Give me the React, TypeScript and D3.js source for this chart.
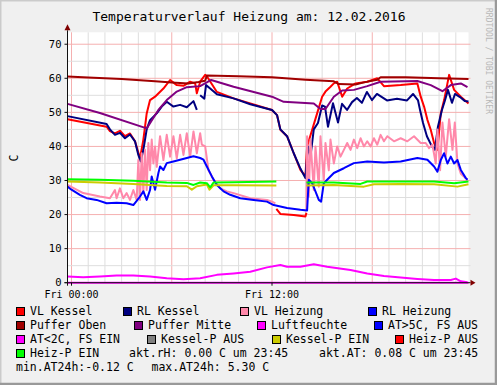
import * as d3 from "d3";

type Pt = [number, number | null];

// hours from Fri 00:00, temperature in C
const vlKessel: Pt[] = [
  [-0.24, 48.0], [2.1, 45.8], [2.3, 44.5], [2.6, 43.8], [2.9, 44.6], [3.2, 43.0], [3.5, 43.8],
  [3.8, 41.5], [4.1, 36.5], [4.3, 42], [4.4, 45.8], [4.5, 49.7], [4.7, 53.6], [5.0, 54.6],
  [5.5, 57], [5.9, 59.5], [6.3, 58], [6.7, 57.8], [7.1, 59], [7.4, 58.5], [7.5, 55.6], [7.7, 59],
  [8.0, 61], [8.1, 60.6], [8.7, 56], [9.7, 54.1], [12, 50.7], [12.3, 49.2], [12.5, 44.9],
  [12.9, 43], [13.3, 38], [13.7, 33.1], [14.0, 31.2], [14.1, 40], [14.7, 49.7], [15.0, 54.6],
  [15.2, 56.1], [15.5, 57.5], [15.7, 58.5], [15.9, 59], [16.2, 54.6], [16.5, 57], [17.0, 58.5],
  [17.7, 59], [18.3, 60], [18.7, 57.7], [19.7, 58], [20.7, 58.5], [20.9, 54.6], [21.1, 51.7],
  [21.3, 47.8], [21.5, 44.9], [21.7, 41], [21.9, 39], [22.1, 49.7], [22.3, 53.6], [22.6, 61],
  [22.9, 56.6], [23.3, 54.6], [23.76, 52.6]
];

const rlKessel: Pt[] = [
  [-0.24, 48.9], [2.1, 46.6], [2.3, 45], [2.6, 43.4], [2.9, 44], [3.2, 42.4], [3.5, 43.5],
  [3.8, 41.5], [4.0, 37.5], [4.14, 35.6], [4.3, 39], [4.5, 45], [4.7, 47.7], [5.1, 49.7],
  [5.4, 51.7], [5.7, 53.1], [6.1, 51.7], [6.5, 52.2], [6.9, 51.5], [7.3, 53.3], [7.5, 50.7],
  [7.6, null], [7.7, 55], [7.95, 54], [8.05, 58], [8.3, 57], [8.7, 55.3], [9.7, 54.1],
  [10.7, 52.4], [12, 50.7], [12.3, 49.2], [12.5, 45], [12.9, 43], [13.3, 38], [13.7, 33.5],
  [14.0, 30.7], [14.15, 40], [14.3, 37], [14.5, 45], [14.75, 46.9], [15.0, 52], [15.17, 51.7],
  [15.35, 45.8], [15.65, 52.7], [15.95, 47], [16.19, 52.5], [16.49, 50.7], [16.79, 53],
  [17.08, 54.2], [17.38, 52.8], [17.68, 56], [17.98, 53.6], [18.28, 55.4], [18.88, 53.5],
  [19.48, 54], [20.08, 53.5], [20.44, 55.4], [20.74, 53.5], [20.86, 50.7], [21.04, 46.9],
  [21.27, 43], [21.57, 40], [21.75, 39], [21.93, 45.8], [22.17, 50.7], [22.35, 53.5],
  [22.53, 56.6], [22.77, 52.8], [22.95, 55.4], [23.25, 54.5], [23.55, 53.3], [23.76, 53.2]
];

const vlHeizung: Pt[] = [
  [-0.24, 28.7], [0.7, 26.3], [1.7, 25.3], [2.3, 24.8], [2.6, 27.2], [2.7, 24.8], [2.9, 27.7],
  [3.1, 24.8], [3.3, 26.3], [3.5, 24.3], [3.7, 27.2], [3.9, 24.3], [4.0, 36], [4.1, 24.3],
  [4.2, 38], [4.3, 26.3], [4.4, 39], [4.5, 27.2], [4.6, 41], [4.7, 33], [4.8, 42], [4.9, 35],
  [5.0, 40], [5.1, 34], [5.3, 43], [5.5, 36], [5.7, 43.4], [5.9, 37], [6.1, 43], [6.3, 36.5],
  [6.5, 43.4], [6.7, 37.5], [6.9, 43.9], [7.1, 37], [7.3, 44.4], [7.5, 38], [7.7, 43.9],
  [7.8, 40.5], [8.0, 40], [8.2, 33], [8.5, 30.2], [8.9, 27.7], [9.3, 26.8], [9.7, 26.3],
  [10.7, 24.8], [11.7, 24.3], [12.0, 23.8], [12.2, 23.3], [12.3, null], [14.06, 21.4],
  [14.1, 43], [14.2, 25.3], [14.3, 42], [14.5, 27.2], [14.6, 40], [14.8, 28.2], [14.9, 43],
  [15.1, 30.2], [15.2, 41], [15.4, 33], [15.5, 42], [15.7, 35], [15.9, 40], [16.1, 37],
  [16.3, 39], [16.5, 41], [16.7, 39], [16.9, 42], [17.1, 39.5], [17.3, 42.4], [17.5, 40],
  [17.7, 41.5], [17.9, 40], [18.1, 42.4], [18.3, 40.5], [18.5, 43.4], [18.7, 41.5], [18.9, 43],
  [19.3, 41.5], [19.7, 42.4], [20.1, 41.5], [20.5, 43], [20.9, 41], [21.2, 41], [21.4, 39.5],
  [21.6, 40.5], [21.8, 35], [21.9, 45], [22.06, 33], [22.2, 47], [22.4, 37], [22.6, 48],
  [22.8, 39], [22.94, 47], [23.1, 35], [23.3, 32], [23.7, 30.2]
];

const rlHeizung: Pt[] = [
  [-0.24, 28.2], [0, 27.3], [0.5, 25.8], [0.9, 24.8], [1.5, 24.3], [2.1, 23.3], [2.7, 23.5],
  [3.3, 23.3], [3.7, 22.8], [3.9, 24], [4.1, 25.3], [4.3, 26.8], [4.5, 24.3], [4.7, 27.2],
  [4.8, 31.2], [5.0, 27.3], [5.2, 32.2], [5.3, 34.1], [5.5, 33.1], [5.7, 35.1], [6.1, 35.6],
  [6.5, 36.1], [6.9, 36.6], [7.3, 37.1], [7.7, 36.6], [7.9, 36.1], [8.1, 34.1], [8.4, 31.2],
  [8.7, 28.7], [9.1, 26.8], [9.5, 25.8], [10.1, 24.8], [10.9, 24.3], [11.7, 23.8], [12.1, 22.8],
  [12.9, 21.9], [13.7, 21.4], [14.1, 21.2], [14.2, 30.2], [14.4, 29.2], [14.6, 26.8],
  [14.8, 24.3], [14.94, 23.8], [15.1, 29.2], [15.3, 30.2], [15.7, 32.2], [16.3, 33.6],
  [16.9, 35.1], [17.7, 35.6], [18.7, 35.3], [19.7, 35.6], [20.7, 36.6], [21.3, 36.1],
  [21.7, 34.1], [21.9, 32.6], [22.1, 36], [22.3, 38], [22.5, 35], [22.7, 37], [22.9, 35],
  [23.1, 36], [23.3, 33.1], [23.6, 30.7], [23.7, 30.2]
];

const pufferOben: Pt[] = [
  [-0.24, 60.5], [1, 60.2], [3, 59.8], [5, 59.1], [6, 58.8], [7, 58.5], [7.6, 58.9], [8.0, 59.3],
  [8.1, 60.8], [10, 60.6], [12, 60.3], [14, 59.6], [15.7, 59.1], [16.0, 58.3], [17.0, 58.2],
  [17.5, 58.8], [18.3, 59.6], [18.5, 60.3], [20, 60.3], [22, 60.0], [23.76, 59.8]
];

const pufferMitte: Pt[] = [
  [-0.24, 52.5], [1.7, 49.8], [4.5, 45.3], [5.2, 50.7], [5.7, 53.6], [6.3, 56.1], [6.9, 57.4],
  [7.7, 57.7], [8.36, 59.5], [9.7, 57.5], [12, 54.6], [12.7, 53.1], [14.5, 52.6], [14.9, 51.0],
  [15.2, 51.0], [15.7, 54.6], [16.2, 56.4], [16.9, 56.6], [17.7, 57.7], [18.5, 59.0],
  [20.7, 59.2], [21.5, 58.0], [22.2, 56.2], [22.7, 58.0], [23.3, 58.5], [23.7, 57.4]
];

const luftfeuchte: Pt[] = [[-0.24, 0], [23.76, 0]];

const aussen: Pt[] = [
  [-0.24, 1.8], [0.7, 1.6], [1.7, 1.8], [2.7, 2.1], [3.7, 2.1], [4.7, 1.8], [5.7, 1.3],
  [6.7, 1.0], [7.7, 1.3], [8.7, 2.3], [9.7, 2.7], [10.7, 3.2], [11.7, 4.5], [12.5, 5.2],
  [12.9, 4.7], [13.7, 4.7], [14.5, 5.4], [15.3, 4.7], [16.7, 3.7], [17.7, 2.7], [18.7, 2.0],
  [19.7, 1.5], [20.7, 1.1], [21.7, 0.8], [22.7, 0.8], [23.0, 1.2], [23.3, 0.4], [23.7, 0.1]
];

const kesselPEin: Pt[] = [
  [-0.24, 29.7], [1.7, 29.4], [3.7, 29], [5.7, 28.4], [6.9, 28.3], [7.2, 27.3], [7.5, 28.3],
  [8.1, 28.8], [8.26, 27.3], [8.5, 28.6], [9.7, 28.6], [12.26, 28.5], [12.3, null],
  [14.06, 28.5], [15.7, 28.7], [17.5, 28.2], [18.1, 28.9], [19.7, 29], [21.7, 28.9],
  [23.1, 28.2], [23.76, 28.9]
];

const heizPAus: Pt[] = [[12.26, 21.7], [12.5, 20.2], [13.3, 19.9], [14.0, 19.4], [14.06, 20.5]];

const heizPEin: Pt[] = [
  [-0.24, 30.4], [1.7, 30.2], [3.7, 29.9], [5.7, 29.4], [6.9, 29.3], [7.3, 28.7], [7.7, 29.4],
  [8.1, 29.2], [8.3, 28], [8.5, 29.4], [9.7, 29.5], [12.26, 29.7], [12.3, null], [14.06, 29.4],
  [15.7, 29.4], [17.3, 29], [17.7, 29.7], [19.7, 29.7], [21.7, 29.7], [22.9, 29.2], [23.76, 29.7]
];

const seriesDrawn = [
  { data: vlKessel, color: "#ff0000" },
  { data: rlKessel, color: "#000080" },
  { data: vlHeizung, color: "#ff88aa" },
  { data: rlHeizung, color: "#0000ff" },
  { data: pufferOben, color: "#a00000" },
  { data: pufferMitte, color: "#800080" },
  { data: luftfeuchte, color: "#ff00ff" },
  { data: aussen, color: "#ff00ff" },
  { data: kesselPEin, color: "#cccc00" },
  { data: heizPAus, color: "#ff0000" },
  { data: heizPEin, color: "#00ff00" }
];

const legendRows = [
  [["VL Kessel", "#ff0000"], ["RL Kessel", "#000080"], ["VL Heizung", "#ff88aa"], ["RL Heizung", "#0000ff"]],
  [["Puffer Oben", "#a00000"], ["Puffer Mitte", "#800080"], ["Luftfeuchte", "#ff00ff"], ["AT>5C, FS AUS", "#0000ff"]],
  [["AT<2C, FS EIN", "#ff00ff"], ["Kessel-P AUS", "#808080"], ["Kessel-P EIN", "#cccc00"], ["Heiz-P AUS", "#ff0000"]],
  [["Heiz-P EIN", "#00ff00"]]
];
const legendX = [
  [16, 123, 240, 368],
  [16, 134, 257, 374],
  [16, 147, 272, 395],
  [16]
];
const commentLines = [
  ["akt.rH: 0.00 C um 23:45", 129, 3],
  ["akt.AT: 0.08 C um 23:45", 319, 3],
  ["min.AT24h:-0.12 C", 16, 4],
  ["max.AT24h: 5.30 C", 151.5, 4]
] as const;

const xTickHours = [0, 12];
const xTickLabels = ["Fri 00:00", "Fri 12:00"];

const W = 497;
const H = 385;
const font = "DejaVu Sans Mono";

export default function App() {
  const x = d3.scaleLinear().domain([-0.24, 23.76]).range([67.5, 468.5]);
  const y = d3.scaleLinear().domain([0, 73.5]).range([282.7, 32.3]);
  const path = d3
    .line<Pt>()
    .defined((d) => d[1] !== null)
    .x((d) => x(d[0]))
    .y((d) => y(d[1] as number));

  const hourLines = d3.range(0, 24);
  const fiveLines = d3.range(0, 75, 5);
  const [x0, x1] = x.range();
  const [yb, yt] = y.range();

  return (
    <svg width={W} height={H} style={{ display: "block", position: "absolute", left: 0, top: 0 }}>
      <rect width={W} height={H} fill="#f0f0f0" />
      <path d={`M0,${H} V0 H${W}`} stroke="#cbcbcb" strokeWidth={3} fill="none" />
      <path d={`M0,${H - 1} H${W - 1} V0`} stroke="#999999" strokeWidth={2.5} fill="none" />
      <rect x={x0} y={yt} width={x1 - x0} height={yb - yt} fill="#ffffff" />

      {hourLines.map((h) => (
        <line key={`v${h}`} x1={x(h)} x2={x(h)} y1={yt} y2={yb}
          stroke={h % 6 === 0 ? "#f5b0b0" : "#dedede"} strokeWidth={1} />
      ))}
      {fiveLines.map((v) => (
        <line key={`h${v}`} x1={x0} x2={x1 + 2} y1={y(v)} y2={y(v)}
          stroke={v % 10 === 0 ? "#f5b0b0" : "#dedede"} strokeWidth={1} />
      ))}

      {seriesDrawn.map((s, i) => (
        <path key={i} d={path(s.data) ?? ""} fill="none" stroke={s.color} strokeWidth={2}
          strokeLinejoin="round" />
      ))}

      <line x1={x0} x2={x0} y1={yb + 3} y2={yt - 2} stroke="#101010" />
      <line x1={x0 - 3} x2={x1 + 2} y1={yb} y2={yb} stroke="#101010" />
      <path d={`M${x0 - 3},${yt - 2} L${x0},${yt - 8} L${x0 + 3},${yt - 2} Z`} fill="#800000" />
      <path d={`M${x1 + 2},${yb - 3} L${x1 + 7},${yb} L${x1 + 2},${yb + 3} Z`} fill="#800000" />

      {d3.range(0, 80, 10).map((v) => (
        <g key={`yl${v}`}>
          <line x1={x0 - 3} x2={x0} y1={y(v)} y2={y(v)} stroke="#101010" />
          <text x={x0 - 6} y={y(v) + 3.5} textAnchor="end" fontFamily={font} fontSize={10.5} fill="#000">
            {v}
          </text>
        </g>
      ))}
      {xTickHours.map((h, i) => (
        <g key={`xl${h}`}>
          <line x1={x(h)} x2={x(h)} y1={yb} y2={yb + 3} stroke="#101010" />
          <text x={x(h)} y={yb + 15} textAnchor="middle" fontFamily={font} fontSize={10} fill="#000">
            {xTickLabels[i]}
          </text>
        </g>
      ))}

      <text x={249} y={21} textAnchor="middle" fontFamily={font} fontSize={13} fill="#000">
        Temperaturverlauf Heizung am: 12.02.2016
      </text>
      <text transform="translate(18,158) rotate(-90)" textAnchor="middle" fontFamily={font} fontSize={11.5} fill="#000">
        C
      </text>
      <text transform="translate(486,8) rotate(90)" fontFamily={font} fontSize={8} fill="#b8b8b8">
        RRDTOOL / TOBI OETIKER
      </text>

      {legendRows.map((row, r) =>
        row.map(([label, color], i) => {
          const lx = legendX[r][i];
          const base = 315 + r * 14;
          return (
            <g key={`lg${r}-${i}`}>
              <rect x={lx + 0.5} y={base - 7.5} width={8} height={8} fill={color} stroke="#000" strokeWidth={1} />
              <text x={lx + 14} y={base} fontFamily={font} fontSize={11.5} fill="#000">
                {label}
              </text>
            </g>
          );
        })
      )}
      {commentLines.map(([label, lx, r]) => (
        <text key={label} x={lx} y={315 + r * 14} fontFamily={font} fontSize={11.5} fill="#000">
          {label}
        </text>
      ))}
    </svg>
  );
}
